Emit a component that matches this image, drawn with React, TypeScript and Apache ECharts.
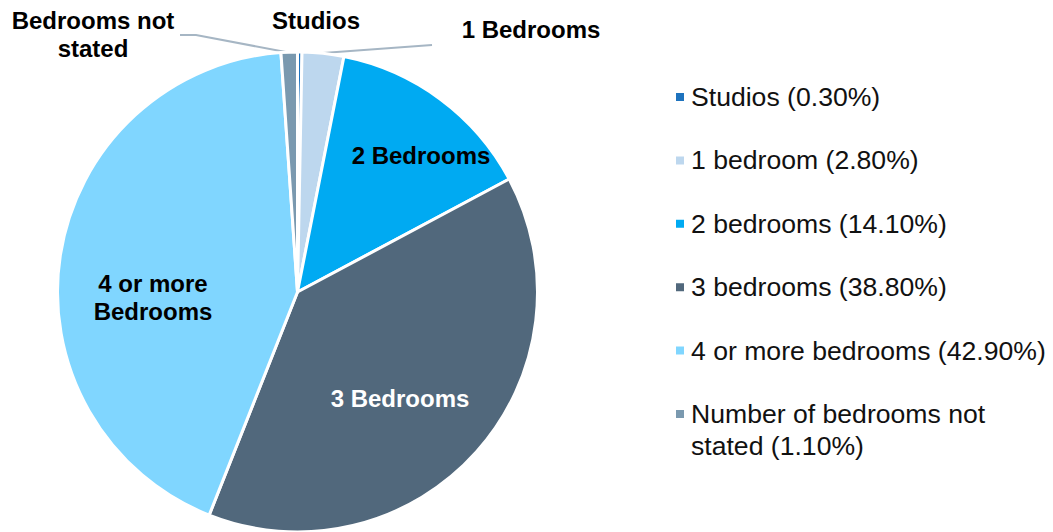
import React, { useEffect, useRef } from "react";
import * as echarts from "echarts";

const categories = [
  "Studios",
  "1 bedroom",
  "2 bedrooms",
  "3 bedrooms",
  "4 or more bedrooms",
  "Number of bedrooms not stated",
];
const values = [0.3, 2.8, 14.1, 38.8, 42.9, 1.1];
const sliceLabels = [
  "Studios",
  "1 Bedrooms",
  "2 Bedrooms",
  "3 Bedrooms",
  "4 or more\nBedrooms",
  "Bedrooms not\nstated",
];
// legend text: first line shown by the legend, optional second line below it
const legendFirstLine = [
  "Studios (0.30%)",
  "1 bedroom (2.80%)",
  "2 bedrooms (14.10%)",
  "3 bedrooms (38.80%)",
  "4 or more bedrooms (42.90%)",
  "Number of bedrooms not",
];
const legendSecondLine = ["", "", "", "", "", "stated (1.10%)"];

const colors = ["#1E73BE", "#BDD7EE", "#00AAF2", "#51687C", "#80D6FF", "#7A99AF"];
const labelColors = ["#000", "#000", "#000", "#fff", "#000", "#000"];

// label placement (text centres) and leader lines
const labelPos: [number, number][] = [
  [316, 20],
  [531, 29],
  [421, 155],
  [400, 398],
  [153, 297],
  [93, 34],
];
const leaderLines: ([number, number][] | null)[] = [
  null,
  [
    [323, 53],
    [432, 45],
  ],
  null,
  null,
  null,
  [
    [291, 53],
    [196, 35],
    [180, 35],
  ],
];

const FONT = "'Liberation Sans', Arial, Helvetica, sans-serif";
const LEGEND_LEFT = 674;
const LEGEND_TOP = 82;
const LEGEND_STEP = 63.4;
const LEGEND_FONT = 26.6;

export default function App() {
  const ref = useRef<HTMLDivElement>(null);
  useEffect(() => {
    if (!ref.current) return;
    const chart = echarts.init(ref.current, null, { renderer: "svg" });
    const data = categories.map((c, i) => ({
      name: c,
      value: values[i],
      itemStyle: { color: colors[i] },
      label: {
        show: true,
        position: leaderLines[i] || i === 0 ? "outside" : "inside",
        formatter: sliceLabels[i],
        color: labelColors[i],
      },
      labelLine: { show: !!leaderLines[i] },
    }));
    const extraLines = legendSecondLine
      .map((t, i) => ({ t, i }))
      .filter((o) => o.t)
      .map((o) => ({
        type: "text",
        left: LEGEND_LEFT + 17,
        top: LEGEND_TOP + o.i * LEGEND_STEP + 30 + 3,
        style: {
          text: o.t,
          fontFamily: FONT,
          fontSize: LEGEND_FONT,
          fill: "#111",
        },
      }));
    chart.setOption({
      animation: false,
      backgroundColor: "#fff",
      legend: {
        orient: "vertical",
        left: LEGEND_LEFT,
        top: LEGEND_TOP,
        padding: 0,
        itemWidth: 10,
        itemHeight: 10,
        itemGap: LEGEND_STEP - 30,
        icon: "rect",
        selectedMode: false,
        textStyle: {
          fontFamily: FONT,
          fontSize: LEGEND_FONT,
          lineHeight: 30,
          color: "#111",
          padding: [0, 0, 0, 1],
        },
        data: categories,
        formatter: (name: string) => legendFirstLine[categories.indexOf(name)],
      },
      graphic: extraLines,
      series: [
        {
          type: "pie",
          center: [297.5, 292],
          radius: 240,
          startAngle: 90,
          clockwise: true,
          avoidLabelOverlap: false,
          itemStyle: { borderColor: "#fff", borderWidth: 3 },
          label: {
            fontFamily: FONT,
            fontSize: 24,
            fontWeight: "bold",
            lineHeight: 28,
            align: "center",
          },
          labelLine: {
            lineStyle: { color: "#A6B6C4", width: 2 },
            smooth: false,
          },
          labelLayout: (params: any) => {
            const i = params.dataIndex;
            const p = labelPos[i];
            const res: any = {
              x: p[0],
              y: p[1],
              align: "center",
              verticalAlign: "middle",
            };
            if (leaderLines[i]) res.labelLinePoints = leaderLines[i];
            return res;
          },
          data,
        },
      ],
    });
    return () => chart.dispose();
  }, []);
  return (
    <div
      ref={ref}
      style={{ position: "absolute", left: 0, top: 0, width: 1053, height: 532 }}
    />
  );
}
